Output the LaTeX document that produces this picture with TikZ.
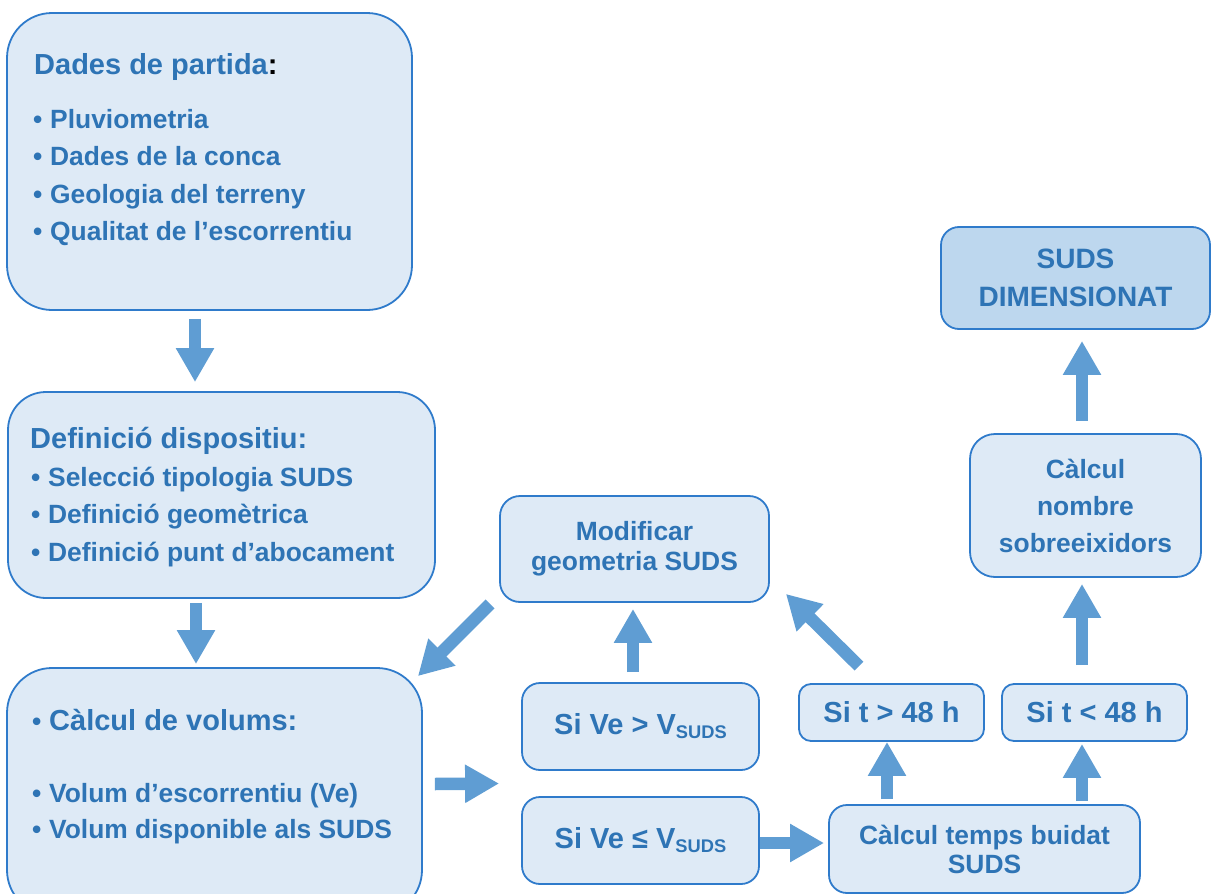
\documentclass[tikz,border=0pt]{standalone}
\usepackage{fontspec}
\setmainfont{Liberation Sans}
\usetikzlibrary{positioning, arrows.meta, calc}

\definecolor{boxfill}{HTML}{DEEAF6}
\definecolor{donefill}{HTML}{BDD7EE}
\definecolor{boxline}{HTML}{2F7BCB}
\definecolor{txtblue}{HTML}{2E74B5}
\definecolor{arrowblue}{HTML}{5F9DD3}

\newcommand{\itm}[1]{\makebox[17pt][l]{\fontsize{26.4}{30}\selectfont •}#1}
\newcommand{\vsub}{\raisebox{-4pt}{\fontsize{18.3}{20}\selectfont SUDS}}

\begin{document}
\begin{tikzpicture}[x=1pt, y=-1pt,
        box/.style={draw=boxline, line width=1.8pt, fill=boxfill, rounded corners=#1,
            inner sep=0pt, align=center, text=txtblue},
        box/.default=18pt,
        headtxt/.style={anchor=base west, inner sep=0pt, text=txtblue,
            font=\bfseries\fontsize{29}{33}\selectfont},
        itemtxt/.style={anchor=base west, inner sep=0pt, text=txtblue,
            font=\bfseries\fontsize{26.4}{30}\selectfont},
        flow/.style={draw=arrowblue, line width=12.5pt,
            -{Triangle[length=34pt, width=36pt]}}
    ]
    \useasboundingbox (0,0) rectangle (1211,894);
    \clip (0,0) rectangle (1211,894);

    % left column
    \node[box=45pt, minimum width=405pt, minimum height=297pt] (dades) at (209.5,161.5) {};
    \node[box=38pt, minimum width=427pt, minimum height=206pt] (defin) at (221.5,495) {};
    \node[box=45pt, minimum width=415pt, minimum height=247pt] (volums) at (214.5,791.5) {};

    \node[headtxt] (dades-h) at (34,74) {Dades de partida\textcolor{black}{:}};
    \foreach \t [count=\i] in {Pluviometria, Dades de la conca, Geologia del terreny,
            Qualitat de l’escorrentiu}
        \node[itemtxt] (dades-\i) at (33,90.5+37.5*\i) {\itm{\t}};

    \node[headtxt] (defin-h) at (30,448) {Definició dispositiu:};
    \foreach \t [count=\i] in {Selecció tipologia SUDS, Definició geomètrica,
            Definició punt d’abocament}
        \node[itemtxt] (defin-\i) at (31,448.5+37.5*\i) {\itm{\t}};

    \node[headtxt] (volums-h) at (32,730) {\itm{Càlcul de volums:}};
    \node[itemtxt] (volums-1) at (32,802) {\itm{Volum d’escorrentiu (Ve)}};
    \node[itemtxt] (volums-2) at (32,838) {\itm{Volum disponible als SUDS}};

    % conditions and checks
    \node[box=20pt, minimum width=269pt, minimum height=106pt,
        font=\bfseries\fontsize{26.4}{30}\selectfont] (modif) at (634.5,549)
        {Modificar\\geometria SUDS};
    \node[box, minimum width=237pt, minimum height=87pt,
        font=\bfseries\fontsize{29}{33}\selectfont] (sigt) at (640.5,726.5)
        {Si Ve > V\vsub};
    \node[box, minimum width=237pt, minimum height=87pt,
        font=\bfseries\fontsize{29}{33}\selectfont] (sile) at (640.5,840.5)
        {Si Ve ≤ V\vsub};
    \node[box=12pt, minimum width=185pt, minimum height=57pt,
        font=\bfseries\fontsize{29}{33}\selectfont] (tgt) at (891.5,712.5) {Si t > 48 h};
    \node[box=12pt, minimum width=185pt, minimum height=57pt,
        font=\bfseries\fontsize{29}{33}\selectfont] (tlt) at (1094.5,712.5) {Si t < 48 h};
    \node[box, minimum width=311pt, minimum height=88pt,
        font=\bfseries\fontsize{26.4}{29}\selectfont] (temps) at (984.5,849)
        {Càlcul temps buidat\\SUDS};
    \node[box=25pt, minimum width=231pt, minimum height=143pt,
        font=\bfseries\fontsize{26.4}{37}\selectfont] (sobre) at (1085.5,505.5)
        {Càlcul\\nombre\\sobreeixidors};
    \node[box, fill=donefill, minimum width=269pt, minimum height=102pt,
        font=\bfseries\fontsize{28}{38}\selectfont] (final) at (1075.5,278)
        {SUDS\\DIMENSIONAT};

    % arrows
    \draw[flow] ([xshift=-14.5pt, yshift=-8pt]dades.south) -- ([xshift=-26.5pt, yshift=9pt]defin.north);
    \draw[flow] ([xshift=-25.5pt, yshift=-4pt]defin.south) -- ([xshift=-18.5pt, yshift=3pt]volums.north);
    \draw[flow] ([xshift=12pt, yshift=7.5pt]volums.east) -- ([xshift=-22pt]$(sigt.south west)!0.5!(sile.north west)$);
    \draw[flow] ([yshift=-2.5pt]sile.east) -- ([xshift=-4pt, yshift=6pt]temps.west);
    \draw[flow] ([xshift=-7.5pt, yshift=10pt]sigt.north) -- ([xshift=-1.5pt, yshift=-6pt]modif.south);
    \draw[flow] ([xshift=-9pt, yshift=-1pt]modif.south west) -- ([xshift=-5pt, yshift=-9pt]volums.north east);
    \draw[flow] ([xshift=-32.5pt, yshift=17pt]tgt.north) -- ([xshift=16pt, yshift=9pt]modif.south east);
    \draw[flow] ([xshift=-97.5pt, yshift=5pt]temps.north) -- ([xshift=-4.5pt]tgt.south);
    \draw[flow] ([xshift=97.5pt, yshift=3pt]temps.north) -- ([xshift=-12.5pt, yshift=-2pt]tlt.south);
    \draw[flow] ([xshift=-12.5pt, yshift=18pt]tlt.north) -- ([xshift=-3.5pt, yshift=-6pt]sobre.south);
    \draw[flow] ([xshift=-3.5pt, yshift=12pt]sobre.north) -- ([xshift=6.5pt, yshift=-11pt]final.south);
\end{tikzpicture}
\end{document}
